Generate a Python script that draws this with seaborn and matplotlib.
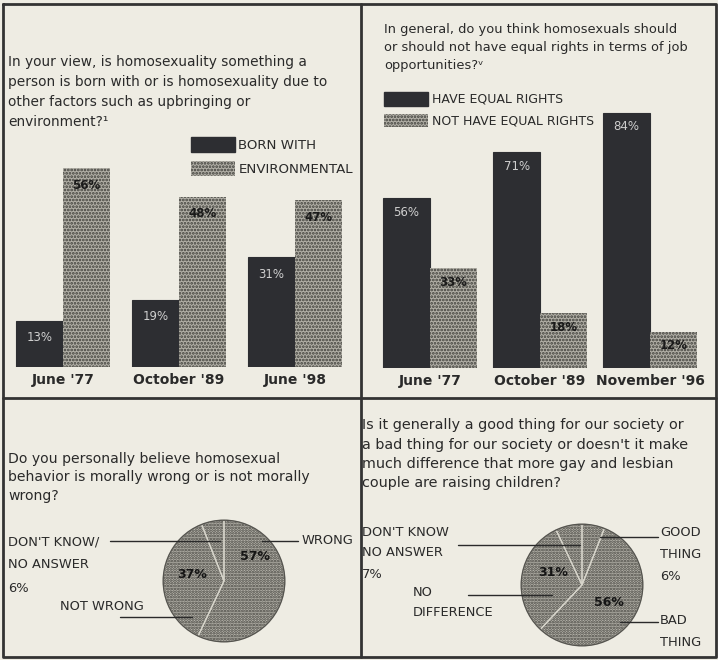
import pandas as pd
import seaborn as sns
import matplotlib.pyplot as plt
from matplotlib.patches import Patch, Circle

# data
born_dates = ["June '77", "October '89", "June '98"]
born_with = [13, 19, 31]
environmental = [56, 48, 47]

job_dates = ["June '77", "October '89", "November '96"]
equal_rights = [56, 71, 84]
not_equal_rights = [33, 18, 12]

moral_labels = ["WRONG", "NOT WRONG", "DON'T KNOW"]
moral_values = [57, 37, 6]

kids_labels = ["GOOD THING", "BAD THING", "NO DIFFERENCE", "DON'T KNOW"]
kids_values = [6, 56, 31, 7]

PAGE = '#eeece3'
DARK = '#2d2e32'
SPECK = '#b1afa6'
SPECK_INK = '#3e3e3a'
INK = '#2a2a2a'

sns.set_theme(style='white')
plt.rcParams['font.family'] = ['DejaVu Sans']
plt.rcParams['hatch.linewidth'] = 1.3

W, H = 718, 660
fig = plt.figure(figsize=(W / 100, H / 100), dpi=100, facecolor=PAGE)


def box(x0, y0, w, h):
    return [x0 / W, 1 - (y0 + h) / H, w / W, h / H]


# overlay in pixel coords for frame, questions and leader lines (on top, transparent)
ov = fig.add_axes([0, 0, 1, 1], zorder=5)
ov.set_xlim(0, W)
ov.set_ylim(H, 0)
ov.axis('off')
ov.patch.set_alpha(0)

lw_frame = 2
ov.plot([3, 716, 716, 3, 3], [4, 4, 657, 657, 4], color='#333', lw=lw_frame)
ov.plot([361, 361], [4, 657], color='#333', lw=lw_frame)
ov.plot([3, 716], [398, 398], color='#333', lw=lw_frame)


def question(x, y0, step, lines, size):
    for i, line in enumerate(lines):
        ov.text(x, y0 + i * step, line, fontsize=size, color=INK,
                va='center', ha='left')


question(8, 62, 20, ["In your view, is homosexuality something a",
                     "person is born with or is homosexuality due to",
                     "other factors such as upbringing or",
                     "environment?\u00b9"], 9.9)

question(384, 30, 18, ["In general, do you think homosexuals should",
                       "or should not have equal rights in terms of job",
                       "opportunities?\u1d5b"], 9.4)

question(8, 459, 18.5, ["Do you personally believe homosexual",
                        "behavior is morally wrong or is not morally",
                        "wrong?"], 10.1)

question(362, 425, 19.5, ["Is it generally a good thing for our society or",
                          "a bad thing for our society or doesn't it make",
                          "much difference that more gay and lesbian",
                          "couple are raising children?"], 10.4)


def bar_panel(rect, dates, dark_vals, speck_vals, names, width, label_pad):
    ax = fig.add_axes(box(*rect), zorder=1)
    df = pd.DataFrame({
        'date': dates * 2,
        'pct': dark_vals + speck_vals,
        'kind': [names[0]] * len(dates) + [names[1]] * len(dates),
    })
    sns.barplot(data=df, x='date', y='pct', hue='kind', palette=[DARK, SPECK],
                width=width, saturation=1, legend=False, ax=ax)
    for bar in ax.containers[0]:
        bar.set_edgecolor(DARK)
        bar.set_linewidth(0.8)
    for bar in ax.containers[1]:
        bar.set_hatch('.....')
        bar.set_edgecolor(SPECK_INK)
        bar.set_linewidth(0)
    ax.bar_label(ax.containers[0], labels=[f'{v}%' for v in dark_vals],
                 padding=label_pad, color='#cfcfcf', fontsize=8.5)
    ax.bar_label(ax.containers[1], labels=[f'{v}%' for v in speck_vals],
                 padding=label_pad, color='#1a1a1a', fontsize=8.5,
                 fontweight='bold')
    ax.set_ylim(0, 100)
    ax.set_xlim(-0.5, len(dates) - 0.5)
    ax.set_xlabel('')
    ax.set_ylabel('')
    ax.set_yticks([])
    ax.tick_params(axis='x', length=0, pad=4)
    for t in ax.get_xticklabels():
        t.set_fontweight('bold')
        t.set_fontsize(10)
        t.set_color(INK)
    sns.despine(ax=ax, left=True, bottom=True)
    ax.patch.set_alpha(0)
    return ax


ax1 = bar_panel((5, 12, 348, 355), born_dates, born_with, environmental,
                ['BORN WITH', 'ENVIRONMENTAL'], 0.81, -17)
ax2 = bar_panel((375, 64, 330, 304), job_dates, equal_rights, not_equal_rights,
                ['HAVE EQUAL RIGHTS', 'NOT HAVE EQUAL RIGHTS'], 0.85, -15)

leg_dark = Patch(facecolor=DARK, edgecolor=DARK)
leg_speck = Patch(facecolor=SPECK, edgecolor=SPECK_INK, hatch='.....', lw=0)

fig.legend([leg_dark, leg_speck], ['BORN WITH', 'ENVIRONMENTAL'],
           loc='upper left', bbox_to_anchor=(191 / W, 1 - 137 / H),
           frameon=False, fontsize=9.6, handlelength=3.3, handleheight=1.35,
           labelspacing=0.65, handletextpad=0.25, borderpad=0, borderaxespad=0,
           labelcolor=INK)
fig.legend([leg_dark, leg_speck], ['HAVE EQUAL RIGHTS', 'NOT HAVE EQUAL RIGHTS'],
           loc='upper left', bbox_to_anchor=(384 / W, 1 - 92 / H),
           frameon=False, fontsize=9.0, handlelength=3.5, handleheight=1.3,
           labelspacing=0.6, handletextpad=0.35, borderpad=0, borderaxespad=0,
           labelcolor=INK)


def pie_panel(cx, cy, r, values, startangle):
    ax = fig.add_axes(box(cx - r, cy - r, 2 * r, 2 * r), zorder=1)
    ax.pie(values, colors=['#b7b5ac'] * len(values), startangle=startangle,
           counterclock=False, hatch='......',
           wedgeprops=dict(edgecolor='#45443f', linewidth=0))
    # faint wedge seams
    ax.pie(values, colors=['none'] * len(values), startangle=startangle,
           counterclock=False,
           wedgeprops=dict(edgecolor='#d6d4ca', linewidth=0.9, fill=False))
    ax.add_patch(Circle((0, 0), 1, fill=False, edgecolor='#55544f', lw=1))
    ax.set_xlim(-1.02, 1.02)
    ax.set_ylim(-1.02, 1.02)
    ax.set_aspect('equal')
    ax.axis('off')
    return ax


pie_panel(224, 581, 62, moral_values, 90)
pie_panel(582, 585, 62, kids_values, 90)

lab = dict(fontsize=9.4, color=INK, va='center', ha='left')
inner = dict(fontsize=9, color='#151515', fontweight='bold', va='center',
             ha='center')

# pie 1 labels
ov.text(8, 542, "DON'T KNOW/", **lab)
ov.text(8, 565, 'NO ANSWER', **lab)
ov.text(8, 588, f'{moral_values[2]}%', **lab)
ov.plot([110, 220], [541, 541], color=INK, lw=1)
ov.text(302, 541, 'WRONG', **lab)
ov.plot([262, 298], [541, 541], color=INK, lw=1)
ov.text(60, 607, 'NOT WRONG', **lab)
ov.plot([120, 192], [617, 617], color=INK, lw=1)
ov.text(255, 557, f'{moral_values[0]}%', **inner)
ov.text(192, 574, f'{moral_values[1]}%', **inner)

# pie 2 labels
ov.text(362, 532, "DON'T KNOW", **lab)
ov.text(362, 553, 'NO ANSWER', **lab)
ov.text(362, 575, f'{kids_values[3]}%', **lab)
ov.plot([458, 580], [545, 545], color=INK, lw=1)
ov.text(660, 533, 'GOOD', **lab)
ov.text(660, 555, 'THING', **lab)
ov.text(660, 577, f'{kids_values[0]}%', **lab)
ov.plot([600, 658], [537, 537], color=INK, lw=1)
ov.text(413, 593, 'NO', **lab)
ov.text(413, 613, 'DIFFERENCE', **lab)
ov.plot([468, 552], [595, 595], color=INK, lw=1)
ov.text(660, 620, 'BAD', **lab)
ov.text(660, 642, 'THING', **lab)
ov.plot([620, 658], [622, 622], color=INK, lw=1)
ov.text(553, 573, f'{kids_values[2]}%', **inner)
ov.text(609, 603, f'{kids_values[1]}%', **inner)

fig.savefig('out.png', dpi=100, facecolor=PAGE)
